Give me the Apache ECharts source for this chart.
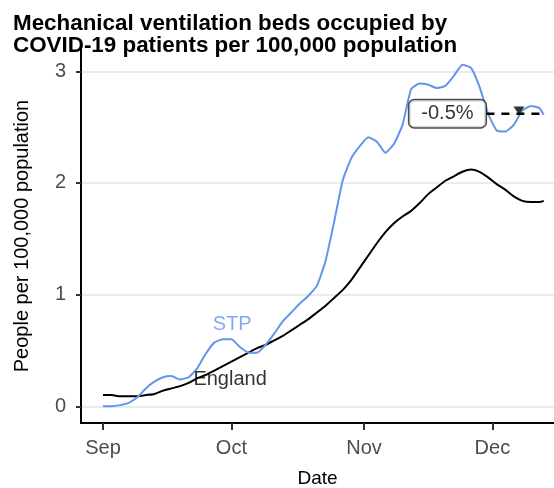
<!DOCTYPE html>
<html>
<head>
<meta charset="utf-8">
<script src="https://cdn.jsdelivr.net/npm/echarts@6/dist/echarts.min.js"></script>
<style>
  html, body { margin: 0; padding: 0; background: #fff; }
  #chart { width: 554px; height: 488px; }
</style>
</head>
<body>
<div id="chart"></div>
<script>
// days since 1 September
var days = [0, 2, 4, 6, 8, 10, 12, 14, 16, 18, 20, 22, 24, 26, 28, 30, 32, 34, 36, 38,
  40, 42, 44, 46, 48, 50, 52, 54, 56, 58, 60, 62, 64, 66, 68, 70, 72, 74, 76, 78,
  80, 82, 84, 86, 88, 90, 92, 94, 96, 98, 100, 102, 103]

var stpValues = [0.00, 0.00, 0.01, 0.03, 0.08, 0.16, 0.22, 0.26, 0.27, 0.24, 0.26, 0.34, 0.47, 0.57, 0.60, 0.60, 0.53, 0.48, 0.48, 0.55,
  0.65, 0.76, 0.84, 0.92, 0.99, 1.08, 1.30, 1.65, 2.02, 2.22, 2.33, 2.41, 2.37, 2.27, 2.35, 2.52, 2.84, 2.89, 2.88, 2.85,
  2.87, 2.96, 3.06, 3.03, 2.86, 2.62, 2.47, 2.46, 2.52, 2.65, 2.69, 2.67, 2.61]

var englandValues = [0.10, 0.10, 0.09, 0.09, 0.09, 0.10, 0.11, 0.14, 0.16, 0.18, 0.21, 0.25, 0.28, 0.32, 0.36, 0.40, 0.44, 0.48, 0.52, 0.55,
  0.59, 0.63, 0.68, 0.73, 0.78, 0.84, 0.90, 0.97, 1.04, 1.13, 1.24, 1.35, 1.46, 1.56, 1.64, 1.70, 1.75, 1.82, 1.90, 1.96,
  2.02, 2.06, 2.10, 2.12, 2.10, 2.05, 1.99, 1.94, 1.88, 1.84, 1.83, 1.83, 1.84]

var monthLabels = ['Sep', 'Oct', 'Nov', 'Dec']
var monthDays = [0, 30, 61, 91]
var yTicks = [0, 1, 2, 3]

// projection annotation
var changeText = '-0.5%'
var projDays = [89.6, 102]
var projValue = 2.62
var arrowDay = 97.2
var arrowValue = 2.65

var font = 'Liberation Sans, Arial, sans-serif'
var stpColor = '#6495ED'

function pairs (xs, ys) {
  return xs.map(function (x, i) { return [x, ys[i]] })
}

var chart = echarts.init(document.getElementById('chart'))

chart.setOption({
  animation: false,
  textStyle: { fontFamily: font },
  title: {
    text: 'Mechanical ventilation beds occupied by\nCOVID-19 patients per 100,000 population',
    left: 8,
    top: 8,
    textStyle: { fontSize: 22.4, fontWeight: 'bold', color: '#000', lineHeight: 22, fontFamily: font }
  },
  grid: { left: 81, right: 0, top: 49, bottom: 65, outerBoundsMode: 'none' },
  xAxis: {
    type: 'value',
    min: -5.15,
    max: 105.4,
    name: 'Date',
    nameLocation: 'middle',
    nameGap: 46,
    nameTextStyle: { fontSize: 19, color: '#000' },
    axisLine: { show: true, onZero: false, lineStyle: { color: '#000', width: 2 } },
    axisTick: { show: true, length: 7, customValues: monthDays, lineStyle: { color: '#333', width: 2 } },
    axisLabel: {
      customValues: monthDays,
      fontSize: 20,
      color: '#4d4d4d',
      margin: 15,
      formatter: function (v) { return monthLabels[monthDays.indexOf(v)] }
    },
    splitLine: { show: false }
  },
  yAxis: {
    type: 'value',
    min: -0.15,
    max: 3.2,
    name: 'People per 100,000 population',
    nameLocation: 'middle',
    nameGap: 49,
    nameTextStyle: { fontSize: 20, color: '#000' },
    axisLine: { show: true, onZero: false, lineStyle: { color: '#000', width: 2 } },
    axisTick: { show: true, length: 5, customValues: yTicks, lineStyle: { color: '#333', width: 2 } },
    axisLabel: { customValues: yTicks, fontSize: 20, color: '#4d4d4d', margin: 15 },
    splitLine: { show: true, lineStyle: { color: '#ebebeb', width: 2 } }
  },
  series: [
    {
      name: 'England',
      type: 'line',
      data: pairs(days, englandValues),
      showSymbol: false,
      smooth: 0.2,
      lineStyle: { color: '#000', width: 2 },
      z: 3
    },
    {
      name: 'STP',
      type: 'line',
      data: pairs(days, stpValues),
      showSymbol: false,
      smooth: 0.15,
      lineStyle: { color: stpColor, width: 2 },
      z: 4
    },
    {
      name: 'projection',
      type: 'line',
      data: pairs(projDays, [projValue, projValue]),
      showSymbol: false,
      lineStyle: { color: '#000', width: 2.5, type: [8, 7] },
      z: 5
    },
    {
      name: 'arrow',
      type: 'scatter',
      data: [[arrowDay, arrowValue]],
      symbol: 'triangle',
      symbolRotate: 180,
      symbolSize: [11, 8],
      itemStyle: { color: '#000' },
      z: 6
    },
    {
      name: 'labels',
      type: 'scatter',
      symbolSize: 0,
      z: 7,
      data: [
        { value: [30.2, 0.73], label: { formatter: 'STP', color: stpColor } },
        { value: [29.7, 0.24], label: { formatter: 'England', color: '#000' } },
        {
          value: [80.5, projValue],
          label: {
            formatter: changeText,
            color: '#000',
            backgroundColor: '#fff',
            borderColor: '#222',
            borderWidth: 1.5,
            borderRadius: 5,
            padding: [4, 12, 3, 12]
          }
        }
      ],
      label: { show: true, position: 'inside', fontSize: 20, fontFamily: font, textBorderWidth: 0 }
    }
  ]
})
</script>
</body>
</html>
